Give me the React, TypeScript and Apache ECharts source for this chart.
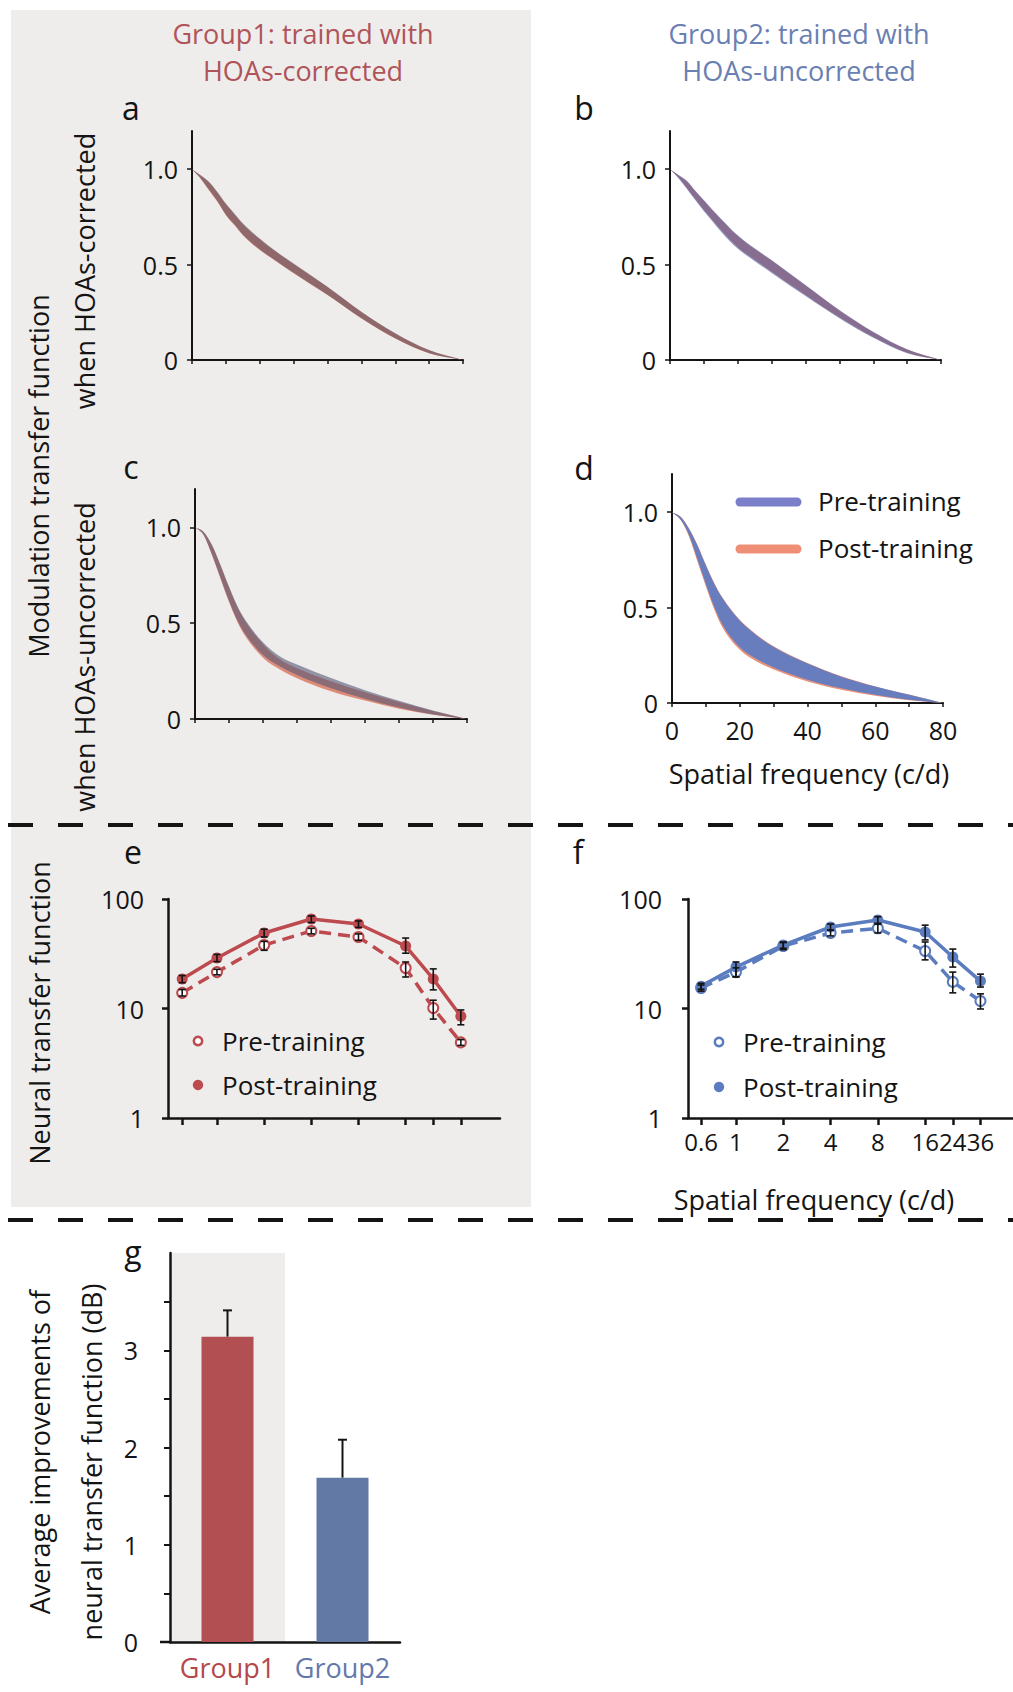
import React, { useEffect, useRef } from 'react';
import * as echarts from 'echarts';

const FONT = '"Open Sans", "Noto Sans", sans-serif';
const INK = '#141414';
const RED = '#bd4a4e';
const BLUE = '#5b7cbf';
const TITLE_RED = '#b0545a';
const TITLE_BLUE = '#6a80b2';
const GREY = '#efedeb';

// ---------- MTF panels (a-d) ----------
const mtfFreq = [0, 2.5, 5, 7.5, 10, 12.5, 15, 20, 25, 30, 40, 50, 60, 70, 80];
const mtfXTicks = [0, 10, 20, 30, 40, 50, 60, 70, 80];
const mtfXLabels = [0, 20, 40, 60, 80];
const mtfYTicks = [0, 0.5, 1];

// a: Group1, HOAs-corrected
const aPreHi = [1, 0.969, 0.934, 0.881, 0.82, 0.768, 0.716, 0.637, 0.567, 0.506, 0.384, 0.253, 0.14, 0.052, 0];
const aPreLo = [1, 0.953, 0.893, 0.833, 0.763, 0.711, 0.658, 0.58, 0.518, 0.457, 0.342, 0.22, 0.114, 0.036, 0];
const aPostHi = [1, 0.967, 0.931, 0.878, 0.816, 0.764, 0.712, 0.633, 0.564, 0.503, 0.382, 0.252, 0.139, 0.051, 0];
const aPostLo = [1, 0.951, 0.89, 0.829, 0.759, 0.707, 0.654, 0.576, 0.515, 0.454, 0.34, 0.218, 0.113, 0.035, 0];
// b: Group2, HOAs-corrected
const bPreHi = [1, 0.97, 0.939, 0.887, 0.838, 0.789, 0.742, 0.654, 0.585, 0.524, 0.393, 0.262, 0.148, 0.056, 0];
const bPreLo = [1, 0.953, 0.896, 0.837, 0.78, 0.727, 0.674, 0.583, 0.518, 0.456, 0.335, 0.219, 0.116, 0.036, 0];
const bPostHi = [1, 0.968, 0.936, 0.884, 0.834, 0.785, 0.738, 0.65, 0.582, 0.521, 0.39, 0.26, 0.146, 0.055, 0];
const bPostLo = [1, 0.956, 0.9, 0.842, 0.786, 0.734, 0.682, 0.591, 0.525, 0.463, 0.341, 0.224, 0.12, 0.038, 0];
// c: Group1, HOAs-uncorrected
const cPreHi = [1, 0.977, 0.908, 0.804, 0.691, 0.588, 0.511, 0.4, 0.326, 0.284, 0.214, 0.15, 0.095, 0.044, 0];
const cPreLo = [1, 0.961, 0.858, 0.737, 0.617, 0.514, 0.437, 0.334, 0.274, 0.23, 0.16, 0.106, 0.06, 0.024, 0];
const cPostHi = [1, 0.976, 0.906, 0.801, 0.687, 0.583, 0.505, 0.39, 0.31, 0.265, 0.197, 0.139, 0.089, 0.042, 0];
const cPostLo = [1, 0.96, 0.855, 0.732, 0.61, 0.505, 0.426, 0.32, 0.258, 0.213, 0.145, 0.096, 0.054, 0.022, 0];
// d: Group2, HOAs-uncorrected
const dPreHi = [1, 0.976, 0.913, 0.825, 0.72, 0.624, 0.546, 0.432, 0.354, 0.294, 0.207, 0.138, 0.086, 0.043, 0];
const dPreLo = [1, 0.962, 0.882, 0.754, 0.624, 0.503, 0.407, 0.292, 0.23, 0.186, 0.122, 0.077, 0.043, 0.017, 0];
const dPostHi = [1, 0.977, 0.916, 0.829, 0.724, 0.628, 0.55, 0.436, 0.358, 0.297, 0.209, 0.14, 0.087, 0.044, 0];
const dPostLo = [1, 0.96, 0.873, 0.742, 0.611, 0.489, 0.393, 0.279, 0.218, 0.175, 0.113, 0.07, 0.038, 0.014, 0];

// ---------- Neural transfer function (e, f) ----------
const sfValues = [0.6, 1, 2, 4, 8, 16, 24, 36];
const ntfYTicks = [1, 10, 100];
// e: Group1
const ePre = [13.9, 21.5, 38.0, 51, 45, 23.4, 10.1, 4.9];
const ePreLo = [13.0, 20.3, 34.0, 48, 42, 19.4, 8.0, 4.6];
const ePreHi = [14.9, 22.8, 41.0, 54, 48, 26.6, 11.9, 5.2];
const ePost = [18.6, 28.9, 48.9, 65.7, 59.1, 37.2, 18.6, 8.5];
const ePostLo = [17.2, 26.8, 45, 61, 55, 32, 14.8, 7.1];
const ePostHi = [20.0, 31.2, 53, 70, 63, 44, 23, 9.7];
// f: Group2
const fPre = [15.4, 21.5, 37.2, 48.9, 54, 33.5, 17.5, 11.7];
const fPreLo = [14.4, 19.5, 34.5, 46, 49, 27.8, 13.9, 9.9];
const fPreHi = [16.4, 23.5, 40, 52, 59, 40.5, 21.5, 13.6];
const fPost = [16.0, 23.9, 38, 55.5, 64.3, 50, 29.5, 17.8];
const fPostLo = [15, 19.4, 35.5, 52, 60, 42.3, 23.9, 15.7];
const fPostHi = [17, 26.6, 40.5, 59, 69, 57.7, 34.9, 20.6];

// ---------- Average improvement (g) ----------
const groups = ['Group1', 'Group2'];
const improvement = [3.14, 1.69];
const improvementTop = [3.41, 2.08];
const gYTicks = [0, 0.5, 1, 1.5, 2, 2.5, 3, 3.5];
const gYLabels = [0, 1, 2, 3];

const axisLine = (w: number) => ({ show: true, onZero: false, lineStyle: { color: INK, width: w } });

function mtfX(gi: number, labels: boolean) {
  return {
    type: 'value', gridIndex: gi, min: 0, max: 80,
    axisLine: axisLine(2),
    axisTick: { show: true, customValues: mtfXTicks, length: 4, lineStyle: { color: INK, width: 1.5 } },
    axisLabel: labels
      ? { show: true, customValues: mtfXLabels, fontSize: 25, color: INK, margin: 14, fontFamily: FONT, showMinLabel: true, showMaxLabel: true }
      : { show: false },
    splitLine: { show: false },
  };
}
function mtfY(gi: number) {
  return {
    type: 'value', gridIndex: gi, min: 0, max: 1.2,
    axisLine: axisLine(2),
    axisTick: { show: true, customValues: mtfYTicks, length: 5, lineStyle: { color: INK, width: 1.5 } },
    axisLabel: {
      show: true, customValues: mtfYTicks, fontSize: 25, color: INK, margin: 14, fontFamily: FONT,
      showMinLabel: true, showMaxLabel: true,
      formatter: (v: number) => (v === 0 ? '0' : v.toFixed(1)),
    },
    splitLine: { show: false },
  };
}
function ntfX(gi: number, min: number, max: number, labels: boolean) {
  return {
    type: 'log', logBase: 2, gridIndex: gi, min, max,
    axisLine: axisLine(2.5),
    axisTick: { show: true, customValues: sfValues, length: 7, lineStyle: { color: INK, width: 2.5 } },
    axisLabel: labels
      ? {
          show: true, customValues: sfValues, fontSize: 24, color: INK, margin: 11, fontFamily: FONT,
          showMinLabel: true, showMaxLabel: true, hideOverlap: false, interval: 0,
          formatter: (v: number) => String(v),
        }
      : { show: false },
    splitLine: { show: false },
    minorTick: { show: false },
  };
}
function ntfY(gi: number, margin: number) {
  return {
    type: 'log', logBase: 10, gridIndex: gi, min: 1, max: 100,
    axisLine: axisLine(2.5),
    axisTick: { show: true, customValues: ntfYTicks, length: 6, lineStyle: { color: INK, width: 2.5 } },
    axisLabel: {
      show: true, customValues: ntfYTicks, fontSize: 25, color: INK, margin, fontFamily: FONT,
      showMinLabel: true, showMaxLabel: true, formatter: (v: number) => String(v),
    },
    splitLine: { show: false },
    minorTick: { show: false },
  };
}

// Monotone cubic (Fritsch–Carlson) tangents on pixel points, for a smooth, non-overshooting band edge.
function tangents(p: number[][]) {
  const n = p.length;
  const d: number[] = [];
  for (let i = 0; i < n - 1; i++) {
    const dx = p[i + 1][0] - p[i][0];
    d.push(dx === 0 ? 0 : (p[i + 1][1] - p[i][1]) / dx);
  }
  const m: number[] = new Array(n).fill(0);
  m[0] = d[0];
  m[n - 1] = d[n - 2];
  for (let i = 1; i < n - 1; i++) m[i] = d[i - 1] * d[i] <= 0 ? 0 : (d[i - 1] + d[i]) / 2;
  for (let i = 0; i < n - 1; i++) {
    if (d[i] === 0) { m[i] = 0; m[i + 1] = 0; continue; }
    const a = m[i] / d[i];
    const b = m[i + 1] / d[i];
    const s = a * a + b * b;
    if (s > 9) {
      const t = 3 / Math.sqrt(s);
      m[i] = t * a * d[i];
      m[i + 1] = t * b * d[i];
    }
  }
  return m;
}
function curveForward(p: number[][]) {
  const m = tangents(p);
  let s = '';
  for (let i = 0; i < p.length - 1; i++) {
    const h = (p[i + 1][0] - p[i][0]) / 3;
    s += ` C${p[i][0] + h},${p[i][1] + m[i] * h} ${p[i + 1][0] - h},${p[i + 1][1] - m[i + 1] * h} ${p[i + 1][0]},${p[i + 1][1]}`;
  }
  return s;
}
function curveBackward(p: number[][]) {
  const m = tangents(p);
  let s = '';
  for (let i = p.length - 1; i > 0; i--) {
    const h = (p[i][0] - p[i - 1][0]) / 3;
    s += ` C${p[i][0] - h},${p[i][1] - m[i] * h} ${p[i - 1][0] + h},${p[i - 1][1] + m[i - 1] * h} ${p[i - 1][0]},${p[i - 1][1]}`;
  }
  return s;
}

// A band between a lower and an upper curve, positioned through the axes' scales.
function band(name: string, gi: number, lo: number[], hi: number[], color: string) {
  return {
    name, type: 'custom', xAxisIndex: gi, yAxisIndex: gi, silent: true, z: 2,
    data: mtfFreq.map((f, i) => [f, lo[i], hi[i]]),
    encode: { x: 0, y: [1, 2] },
    renderItem: (params: any, api: any) => {
      if (params.dataIndexInside !== 0) return null;
      const n = params.dataInsideLength;
      const upper: number[][] = [];
      const lower: number[][] = [];
      for (let i = 0; i < n; i++) {
        const x = api.value(0, i);
        upper.push(api.coord([x, api.value(2, i)]));
        lower.push(api.coord([x, api.value(1, i)]));
      }
      const last = lower[n - 1];
      const d = `M${upper[0][0]},${upper[0][1]}` + curveForward(upper) + ` L${last[0]},${last[1]}` + curveBackward(lower) + ' Z';
      return { type: 'path', shape: { pathData: d }, style: { fill: color } };
    },
  };
}

function errRender(capBoth: boolean, cw: number, lw: number) {
  return (params: any, api: any) => {
    const x = api.value(0);
    const p1 = api.coord([x, api.value(1)]);
    const p2 = api.coord([x, api.value(2)]);
    const st = { stroke: INK, lineWidth: lw };
    const children: any[] = [
      { type: 'line', shape: { x1: p1[0], y1: p1[1], x2: p2[0], y2: p2[1] }, style: st },
      { type: 'line', shape: { x1: p2[0] - cw, y1: p2[1], x2: p2[0] + cw, y2: p2[1] }, style: st },
    ];
    if (capBoth) children.push({ type: 'line', shape: { x1: p1[0] - cw, y1: p1[1], x2: p1[0] + cw, y2: p1[1] }, style: st });
    return { type: 'group', children };
  };
}

function ntfSeries(gi: number, color: string, pre: number[], preLo: number[], preHi: number[], post: number[], postLo: number[], postHi: number[]) {
  return [
    {
      name: 'Pre-training', type: 'line', xAxisIndex: gi, yAxisIndex: gi, z: 3,
      data: sfValues.map((f, i) => [f, pre[i]]), symbol: 'emptyCircle', symbolSize: 10,
      lineStyle: { color, width: 3.5, type: [12, 7] }, itemStyle: { color, borderWidth: 2.5 },
    },
    {
      name: 'Post-training', type: 'line', xAxisIndex: gi, yAxisIndex: gi, z: 4,
      data: sfValues.map((f, i) => [f, post[i]]), symbol: 'circle', symbolSize: 11,
      lineStyle: { color, width: 3.5 }, itemStyle: { color },
    },
    {
      type: 'custom', xAxisIndex: gi, yAxisIndex: gi, z: 6, silent: true,
      data: sfValues.map((f, i) => [f, preLo[i], preHi[i]]),
      encode: { x: 0, y: [1, 2] }, renderItem: errRender(true, 3.5, 1.6),
    },
    {
      type: 'custom', xAxisIndex: gi, yAxisIndex: gi, z: 6, silent: true,
      data: sfValues.map((f, i) => [f, postLo[i], postHi[i]]),
      encode: { x: 0, y: [1, 2] }, renderItem: errRender(true, 3.5, 1.6),
    },
  ];
}

function txt(text: string, x: number, y: number, fs: number, fill: string, align = 'center', rot = 0) {
  return {
    type: 'text', x, y, rotation: rot, z: 100, silent: true,
    style: {
      text, x: 0, y: 0, fill, font: `${fs}px ${FONT}`,
      textAlign: align, align, textVerticalAlign: 'middle', verticalAlign: 'middle',
    },
  };
}

const ROT = Math.PI / 2;

function buildOption() {
  const series: any[] = [
    band('Post-training', 0, aPostLo, aPostHi, 'rgb(212,134,120)'),
    band('Pre-training', 0, aPreLo, aPreHi, 'rgba(90,80,98,0.56)'),
    band('Post-training', 1, bPostLo, bPostHi, 'rgb(212,134,120)'),
    band('Pre-training', 1, bPreLo, bPreHi, 'rgba(84,94,160,0.6)'),
    band('Post-training', 2, cPostLo, cPostHi, 'rgb(222,140,122)'),
    band('Pre-training', 2, cPreLo, cPreHi, 'rgba(80,84,115,0.58)'),
    band('Post-training', 3, dPostLo, dPostHi, 'rgb(230,145,125)'),
    band('Pre-training', 3, dPreLo, dPreHi, 'rgba(92,124,194,0.93)'),
    ...ntfSeries(4, RED, ePre, ePreLo, ePreHi, ePost, ePostLo, ePostHi),
    ...ntfSeries(5, BLUE, fPre, fPreLo, fPreHi, fPost, fPostLo, fPostHi),
    {
      name: 'Average improvement', type: 'bar', xAxisIndex: 6, yAxisIndex: 6, barWidth: 52, z: 3,
      data: improvement.map((v, i) => ({ value: v, itemStyle: { color: i === 0 ? '#b24f52' : '#6279a5' } })),
    },
    {
      type: 'custom', xAxisIndex: 6, yAxisIndex: 6, z: 5, silent: true,
      data: groups.map((g, i) => [g, improvement[i], improvementTop[i]]),
      encode: { x: 0, y: [1, 2] }, renderItem: errRender(false, 4.5, 2),
    },
  ];

  const graphic: any[] = [
    { type: 'rect', z: -100, silent: true, shape: { x: 11, y: 10, width: 520, height: 1197 }, style: { fill: GREY } },
    { type: 'rect', z: -100, silent: true, shape: { x: 171, y: 1253, width: 114, height: 389 }, style: { fill: GREY } },
    { type: 'line', z: 100, silent: true, shape: { x1: 8, y1: 825, x2: 1013, y2: 825 }, style: { stroke: INK, lineWidth: 4, lineDash: [25, 25] } },
    { type: 'line', z: 100, silent: true, shape: { x1: 8, y1: 1220, x2: 1013, y2: 1220 }, style: { stroke: INK, lineWidth: 4, lineDash: [25, 25] } },
    { type: 'line', z: 100, silent: true, shape: { x1: 160, y1: 1642, x2: 171, y2: 1642 }, style: { stroke: INK, lineWidth: 2.5 } },
    txt('Group1: trained with', 303, 33, 27, TITLE_RED),
    txt('HOAs-corrected', 303, 70, 27, TITLE_RED),
    txt('Group2: trained with', 799, 33, 27, TITLE_BLUE),
    txt('HOAs-uncorrected', 799, 70, 27, TITLE_BLUE),
    txt('a', 131, 107, 32, INK),
    txt('b', 584, 107, 32, INK),
    txt('c', 131, 466, 32, INK),
    txt('d', 584, 467, 32, INK),
    txt('e', 133, 851, 32, INK),
    txt('f', 578, 851, 32, INK),
    txt('g', 133, 1251, 32, INK),
    txt('Modulation transfer function', 38, 476, 27, INK, 'center', ROT),
    txt('when HOAs-corrected', 84, 271, 27, INK, 'center', ROT),
    txt('when HOAs-uncorrected', 84, 657, 27, INK, 'center', ROT),
    txt('Neural transfer function', 39, 1013, 27, INK, 'center', ROT),
    txt('Average improvements of', 39, 1452, 27, INK, 'center', ROT),
    txt('neural transfer function (dB)', 91, 1462, 27, INK, 'center', ROT),
    txt('Spatial frequency (c/d)', 809, 773, 27, INK),
    txt('Spatial frequency (c/d)', 814, 1199, 27, INK),
    // legend d
    { type: 'line', z: 100, silent: true, shape: { x1: 740, y1: 502, x2: 797, y2: 502 }, style: { stroke: '#7b7ec9', lineWidth: 9, lineCap: 'round' } },
    { type: 'line', z: 100, silent: true, shape: { x1: 740, y1: 549, x2: 797, y2: 549 }, style: { stroke: '#ee8f76', lineWidth: 9, lineCap: 'round' } },
    txt('Pre-training', 818, 501, 26, INK, 'left'),
    txt('Post-training', 818, 548, 26, INK, 'left'),
    // legend e
    { type: 'circle', z: 100, silent: true, shape: { cx: 198, cy: 1041, r: 4.2 }, style: { fill: '#fff', stroke: RED, lineWidth: 2.5 } },
    { type: 'circle', z: 100, silent: true, shape: { cx: 198, cy: 1085, r: 5.2 }, style: { fill: RED } },
    txt('Pre-training', 222, 1041, 26, INK, 'left'),
    txt('Post-training', 222, 1085, 26, INK, 'left'),
    // legend f
    { type: 'circle', z: 100, silent: true, shape: { cx: 719, cy: 1042, r: 4.2 }, style: { fill: '#fff', stroke: BLUE, lineWidth: 2.5 } },
    { type: 'circle', z: 100, silent: true, shape: { cx: 719, cy: 1087, r: 5.2 }, style: { fill: BLUE } },
    txt('Pre-training', 743, 1042, 26, INK, 'left'),
    txt('Post-training', 743, 1087, 26, INK, 'left'),
  ];

  return {
    animation: false,
    backgroundColor: '#ffffff',
    textStyle: { fontFamily: FONT, color: INK },
    grid: [
      { left: 192, top: 131, width: 271, height: 229 },
      { left: 670, top: 131, width: 271, height: 229 },
      { left: 195, top: 489, width: 272, height: 230 },
      { left: 672, top: 474, width: 271, height: 229 },
      { left: 168, top: 899, width: 332, height: 219 },
      { left: 688, top: 899, width: 325, height: 219 },
      { left: 170, top: 1253, width: 230, height: 389 },
    ],
    xAxis: [
      mtfX(0, false), mtfX(1, false), mtfX(2, false), mtfX(3, true),
      ntfX(4, 0.487, 64, false), ntfX(5, 0.495, 58, true),
      {
        type: 'category', gridIndex: 6,
        data: groups.map((g, i) => ({ value: g, textStyle: { color: i === 0 ? '#b5474b' : '#6479ab' } })),
        axisLine: axisLine(2.5), axisTick: { show: false },
        axisLabel: { fontSize: 27, margin: 12, fontFamily: FONT, interval: 0, showMinLabel: true, showMaxLabel: true, hideOverlap: false },
        splitLine: { show: false },
      },
    ],
    yAxis: [
      mtfY(0), mtfY(1), mtfY(2), mtfY(3),
      ntfY(4, 24), ntfY(5, 26),
      {
        type: 'value', gridIndex: 6, min: 0, max: 4,
        axisLine: axisLine(2.5),
        axisTick: { show: true, customValues: gYTicks, length: 6, lineStyle: { color: INK, width: 2 } },
        axisLabel: { show: true, customValues: gYLabels, fontSize: 25, color: INK, margin: 32, fontFamily: FONT, showMinLabel: true, showMaxLabel: true },
        splitLine: { show: false },
      },
    ],
    series,
    graphic,
  };
}

export default function App() {
  const ref = useRef<HTMLDivElement>(null);
  useEffect(() => {
    if (!ref.current) return;
    const chart = echarts.init(ref.current, undefined, { renderer: 'svg' });
    chart.setOption(buildOption() as any);
    return () => chart.dispose();
  }, []);
  return (
    <div
      ref={ref}
      style={{ position: 'absolute', left: 0, top: 0, width: 1013, height: 1692, background: '#fff' }}
    />
  );
}
